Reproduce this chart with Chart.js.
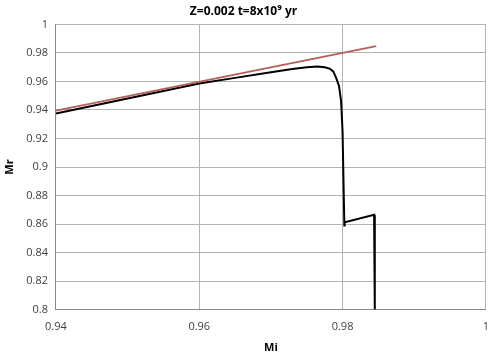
<!DOCTYPE html>
<html>
<head>
<meta charset="utf-8">
<script src="https://cdn.jsdelivr.net/npm/chart.js@4.4.0/dist/chart.umd.min.js"></script>
<style>
  body { margin: 0; background: #fff; }
  #chart { display: block; }
</style>
</head>
<body>
<canvas id="chart" width="500" height="354"></canvas>
<script>
// reference line Mr = Mi
const lineMi = [0.94, 0.9847];
const lineMr = [0.9395, 0.9848];

// model curve
const curveMi = [0.94, 0.95, 0.96, 0.965, 0.97, 0.973, 0.975, 0.9765, 0.9775, 0.9782,
  0.9787, 0.9791, 0.9795, 0.9798, 0.9800, 0.98025, 0.9803, 0.9844, 0.9845];
const curveMr = [0.9375, 0.948, 0.9585, 0.9625, 0.9665, 0.9688, 0.97, 0.9704, 0.9699, 0.969,
  0.967, 0.9625, 0.957, 0.946, 0.925, 0.859, 0.8613, 0.8665, 0.8];

const xTicks = [0.94, 0.96, 0.98, 1];
const yTicks = [0.8, 0.82, 0.84, 0.86, 0.88, 0.9, 0.92, 0.94, 0.96, 0.98, 1];

const toPoints = (xs, ys) => xs.map((x, i) => ({ x: x, y: ys[i] }));
const fmt = v => String(parseFloat(v.toFixed(2)));

const font = 'Open Sans, Liberation Sans, sans-serif';

new Chart(document.getElementById('chart'), {
  type: 'scatter',
  data: {
    datasets: [
      {
        data: toPoints(lineMi, lineMr),
        showLine: true,
        borderColor: '#b45f5c',
        borderWidth: 1.8,
        pointRadius: 0
      },
      {
        data: toPoints(curveMi, curveMr),
        showLine: true,
        borderColor: '#000',
        borderWidth: 2,
        pointRadius: 0,
        tension: 0
      }
    ]
  },
  options: {
    responsive: false,
    animation: false,
    layout: { padding: { left: 1, right: 14, top: 0, bottom: 0 } },
    plugins: {
      legend: { display: false },
      tooltip: { enabled: false },
      title: {
        display: true,
        text: 'Z=0.002 t=8x10\u2079 yr',
        color: '#000',
        font: { family: font, size: 12, weight: 'bold' },
        padding: { top: 4, bottom: 6 }
      }
    },
    scales: {
      x: {
        type: 'linear',
        min: 0.94,
        max: 1,
        afterBuildTicks: axis => { axis.ticks = xTicks.map(v => ({ value: v })); },
        ticks: { callback: fmt, color: '#404040', font: { family: font, size: 11 }, padding: 11 },
        grid: { color: '#b4b4b4', drawTicks: false },
        border: { color: '#888' },
        title: { display: true, text: 'Mi', color: '#000', font: { family: font, size: 11, weight: 'bold' }, padding: { top: -4, bottom: 0 } }
      },
      y: {
        type: 'linear',
        min: 0.8,
        max: 1,
        afterBuildTicks: axis => { axis.ticks = yTicks.map(v => ({ value: v })); },
        ticks: { callback: fmt, color: '#404040', font: { family: font, size: 11 }, padding: 8 },
        grid: { color: '#b4b4b4', drawTicks: false },
        border: { color: '#888' },
        title: { display: true, text: 'Mr', color: '#000', font: { family: font, size: 11, weight: 'bold' }, padding: { top: 2, bottom: 2 } }
      }
    }
  }
});
</script>
</body>
</html>
